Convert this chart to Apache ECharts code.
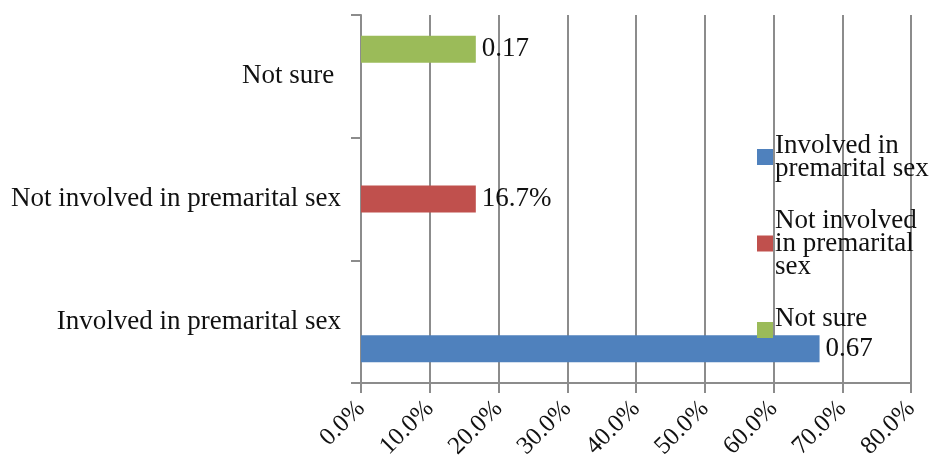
<!DOCTYPE html>
<html><head><meta charset="utf-8">
<script src="https://cdn.jsdelivr.net/npm/echarts@6/dist/echarts.min.js"></script>
<style>html,body{margin:0;padding:0;background:#fff}#c{width:931px;height:455px}</style>
</head><body><div id="c"></div>
<script>
const categories = ["Involved in premarital sex", "Not involved in premarital sex", "Not sure "];
const seriesNames = ["Involved in premarital sex", "Not involved in premarital sex", "Not sure"];
const involvedValues = [0.667, null, null];
const notInvolvedValues = [null, 0.167, null];
const notSureValues = [null, null, 0.167];
const xTicks = { min: 0, max: 0.8, interval: 0.1 };
const colors = ["#4F81BD", "#C0504D", "#9BBB59"];
const legendText = {
  "Involved in premarital sex": "Involved in\npremarital sex",
  "Not involved in premarital sex": "Not involved\nin premarital\nsex",
  "Not sure": "Not sure\n "
};
const FONT = "'Liberation Serif', 'Times New Roman', serif";
const chart = echarts.init(document.getElementById('c'), null, { renderer: 'canvas' });
const fmtRaw = p => p.value == null ? '' : p.value.toFixed(2);
const fmtPct = p => p.value == null ? '' : (p.value * 100).toFixed(1) + '%';
function mk(name, data, color, fmt) {
  return {
    name, type: 'bar', data, barWidth: 27, barGap: '0%',
    itemStyle: { color },
    label: { show: true, position: 'right', distance: 6, formatter: fmt,
      fontFamily: FONT, fontSize: 27, color: '#111' }
  };
}
chart.setOption({
  animation: false,
  textStyle: { fontFamily: FONT },
  grid: { left: 361, right: 20, top: 15, bottom: 72, containLabel: false, outerBoundsMode: 'none' },
  legend: {
    orient: 'vertical', left: 752, top: 127, itemGap: 25,
    itemWidth: 16, itemHeight: 16, icon: 'rect',
    data: seriesNames,
    formatter: n => legendText[n],
    textStyle: { fontFamily: FONT, fontSize: 27, lineHeight: 23, color: '#111', padding: [0,0,0,-3] }
  },
  xAxis: {
    type: 'value', min: xTicks.min, max: xTicks.max, interval: xTicks.interval,
    axisLine: { show: true, lineStyle: { color: '#8c8c8c', width: 2 } },
    axisTick: { show: true, length: 10, lineStyle: { color: '#8c8c8c', width: 2 } },
    splitLine: { show: true, lineStyle: { color: '#8c8c8c', width: 2 } },
    axisLabel: { rotate: 45, margin: 22, fontFamily: FONT, fontSize: 25, color: '#111',
      formatter: v => (v * 100).toFixed(1) + '%' }
  },
  yAxis: {
    type: 'category', data: categories,
    axisLine: { show: true, lineStyle: { color: '#8c8c8c', width: 2 } },
    axisTick: { show: true, length: 10, lineStyle: { color: '#8c8c8c', width: 2 } },
    splitLine: { show: false },
    axisLabel: { margin: 20, fontFamily: FONT, fontSize: 27, color: '#111' }
  },
  series: [
    mk(seriesNames[2], notSureValues, colors[2], fmtRaw),
    mk(seriesNames[1], notInvolvedValues, colors[1], fmtPct),
    mk(seriesNames[0], involvedValues, colors[0], fmtRaw)
  ]
});
</script></body></html>
